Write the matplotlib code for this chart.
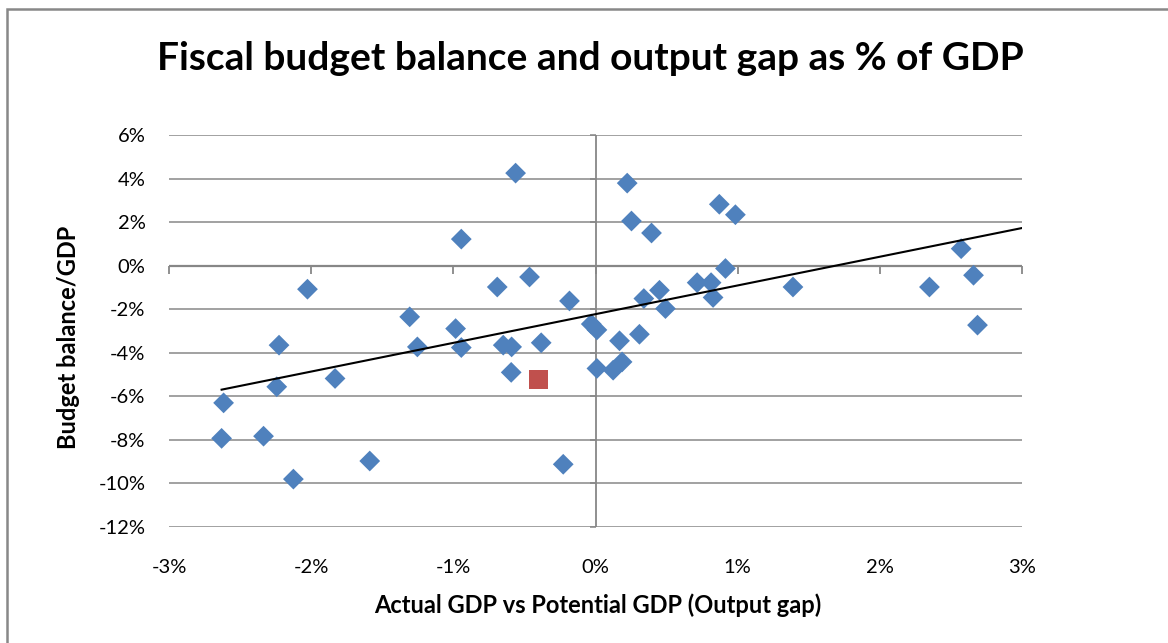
import numpy as np
import matplotlib
matplotlib.use("Agg")
import matplotlib.pyplot as plt
from matplotlib.patches import Rectangle
from matplotlib.ticker import FuncFormatter

# ── Data (% of GDP) ────────────────────────────────────────────────────────────
output_gap = [-0.562, -0.944, -2.026, -0.691, -0.464, -0.183, -1.307, -0.984,
              -2.226, -1.253, -0.944, -0.649, -0.590, -0.382, -0.030, 0.010,
              0.010, -0.593, -1.832, -2.242, -2.616, -2.630, -2.335, -2.125,
              -1.588, -0.227, 0.223, 0.253, 0.394, 0.871, 0.984, 0.914,
              0.715, 0.813, 0.827, 0.450, 0.340, 0.492, 0.309, 0.169,
              0.187, 0.124, 1.389, 2.349, 2.572, 2.659, 2.687]
budget_bal = [4.25, 1.22, -1.08, -0.98, -0.52, -1.62, -2.35, -2.89,
              -3.65, -3.73, -3.76, -3.65, -3.73, -3.54, -2.68, -2.95,
              -4.72, -4.90, -5.18, -5.56, -6.30, -7.93, -7.83, -9.80,
              -8.97, -9.12, 3.79, 2.05, 1.50, 2.82, 2.34, -0.13,
              -0.78, -0.78, -1.46, -1.13, -1.51, -1.97, -3.15, -3.45,
              -4.42, -4.80, -0.98, -0.98, 0.78, -0.44, -2.73]

highlight_gap = [-0.398]
highlight_bal = [-5.23]

x_ticks = [-3, -2, -1, 0, 1, 2, 3]
y_ticks = [-12, -10, -8, -6, -4, -2, 0, 2, 4, 6]

BLUE  = "#4F81BD"
RED   = "#C0504D"
GRID  = "#878787"
FONT  = "Lato"

# ── Figure ─────────────────────────────────────────────────────────────────────
fig = plt.figure(figsize=(11.68, 6.43), dpi=100)
fig.patch.set_facecolor("white")
ax = fig.add_axes([169 / 1168, 1 - 527 / 643, 853 / 1168, 392 / 643])

ax.set_xlim(-3, 3)
ax.set_ylim(-12, 6)
ax.set_xticks(x_ticks)
ax.set_yticks(y_ticks)
pct = FuncFormatter(lambda v, _: f"{v:.0f}%")
ax.xaxis.set_major_formatter(pct)
ax.yaxis.set_major_formatter(pct)
ax.tick_params(length=0, labelsize=14.5, colors="black")
ax.tick_params(axis="x", pad=23)
ax.tick_params(axis="y", pad=17)
for lab in ax.get_xticklabels() + ax.get_yticklabels():
    lab.set_family(FONT)

for s in ax.spines.values():
    s.set_visible(False)
ax.grid(axis="y", color=GRID, linewidth=1.1)
ax.set_axisbelow(True)

# axes crossing at zero, with small tick marks
ax.axhline(0, color=GRID, linewidth=1.6, zorder=1)
ax.axvline(0, color=GRID, linewidth=1.3, zorder=1)
ax.plot(x_ticks, np.zeros(len(x_ticks)), linestyle="none", marker=3,
        markersize=6, markeredgewidth=1.3, color=GRID, zorder=1, clip_on=False)
ax.plot(np.zeros(len(y_ticks)), y_ticks, linestyle="none", marker=0,
        markersize=4, markeredgewidth=1.1, color=GRID, zorder=1, clip_on=False)

# points
ax.scatter(output_gap, budget_bal, marker="D", s=112, color=BLUE,
           edgecolors="none", zorder=3)
ax.scatter(highlight_gap, highlight_bal, marker="s", s=185, color=RED,
           edgecolors="none", zorder=3)

# linear trend
slope, icpt = np.polyfit(output_gap, budget_bal, 1)
tx = np.array([min(output_gap), 3.0])
ax.plot(tx, slope * tx + icpt, color="black", linewidth=1.5, zorder=4)

# ── Labels ─────────────────────────────────────────────────────────────────────
fig.text(590 / 1168, 1 - 58 / 643, "Fiscal budget balance and output gap as % of GDP",
         ha="center", va="center", fontsize=28, fontweight="bold", family=FONT)
fig.text(598 / 1168, 1 - 605 / 643, "Actual GDP vs Potential GDP (Output gap)",
         ha="center", va="center", fontsize=17, fontweight="bold", family=FONT)
fig.text(68 / 1168, 1 - 337 / 643, "Budget balance/GDP", rotation=90,
         ha="center", va="center", fontsize=17, fontweight="bold", family=FONT)

# chart frame
fig.add_artist(Rectangle((7 / 1168, -0.2), 1.2, 1.2 - 8.5 / 643,
                         transform=fig.transFigure, fill=False,
                         edgecolor="#888888", linewidth=1.8))

fig.savefig("out.png", dpi=100)
